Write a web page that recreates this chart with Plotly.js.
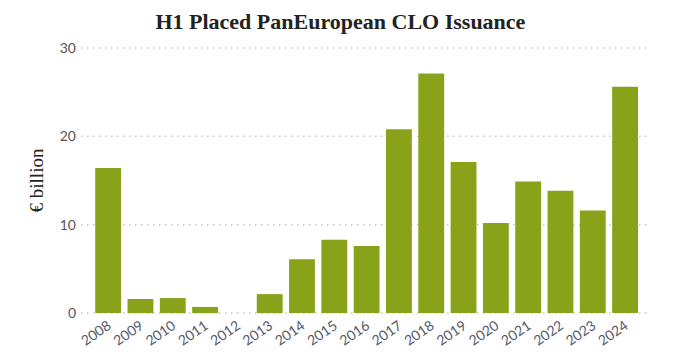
<!DOCTYPE html>
<html>
<head>
<meta charset="utf-8">
<script src="https://cdn.plot.ly/plotly-3.0.1.min.js"></script>
<style>html,body{margin:0;padding:0;background:#fff;}#chart{width:699px;height:362px;}</style>
</head>
<body>
<div id="chart"></div>
<script>
const years = ["2008","2009","2010","2011","2012","2013","2014","2015","2016","2017","2018","2019","2020","2021","2022","2023","2024"];
const issuance = [16.4, 1.6, 1.7, 0.7, 0, 2.15, 6.1, 8.3, 7.6, 20.8, 27.1, 17.1, 10.2, 14.9, 13.85, 11.6, 25.6];
const yTicks = [0, 10, 20, 30];

const trace = {
  type: 'bar',
  x: years,
  y: issuance,
  marker: {color: '#88a31a'},
  hoverinfo: 'x+y'
};

const gridShapes = yTicks.map(v => ({
  type: 'line', xref: 'paper', yref: 'y',
  x0: 0, x1: 1, y0: v, y1: v,
  layer: 'below',
  line: {color: '#c8c8c8', width: 1.5, dash: '1.5px,4.5px'}
}));

const layout = {
  width: 699,
  height: 362,
  margin: {l: 81, r: 50, t: 47, b: 48},
  paper_bgcolor: '#fff',
  plot_bgcolor: '#fff',
  bargap: 0.2,
  showlegend: false,
  shapes: gridShapes,
  title: {
    text: '<b>H1 Placed PanEuropean CLO Issuance</b>',
    font: {family: 'Liberation Serif, DejaVu Serif, serif', size: 22, color: '#222'},
    xref: 'container', x: 0.487, xanchor: 'center',
    yref: 'container', y: 0.94, yanchor: 'middle'
  },
  xaxis: {
    type: 'category',
    range: [-0.84, 16.74],
    tickangle: -35,
    tickfont: {family: 'Lato, Liberation Sans, sans-serif', size: 14, color: '#555a6a'},
    showgrid: false,
    zeroline: false,
    showline: false,
    ticks: ''
  },
  yaxis: {
    range: [-0.1, 30.1],
    tickvals: yTicks,
    ticktext: yTicks.map(String),
    tickfont: {family: 'Lato, Liberation Sans, sans-serif', size: 14, color: '#555'},
    showgrid: false,
    zeroline: false,
    showline: false,
    ticks: '',
    ticklabelstandoff: 4,
    title: {
      text: '€ billion',
      font: {family: 'Liberation Serif, DejaVu Serif, serif', size: 19, color: '#222'},
      standoff: 11
    }
  }
};

Plotly.newPlot('chart', [trace], layout, {displayModeBar: false, staticPlot: true});
</script>
</body>
</html>
